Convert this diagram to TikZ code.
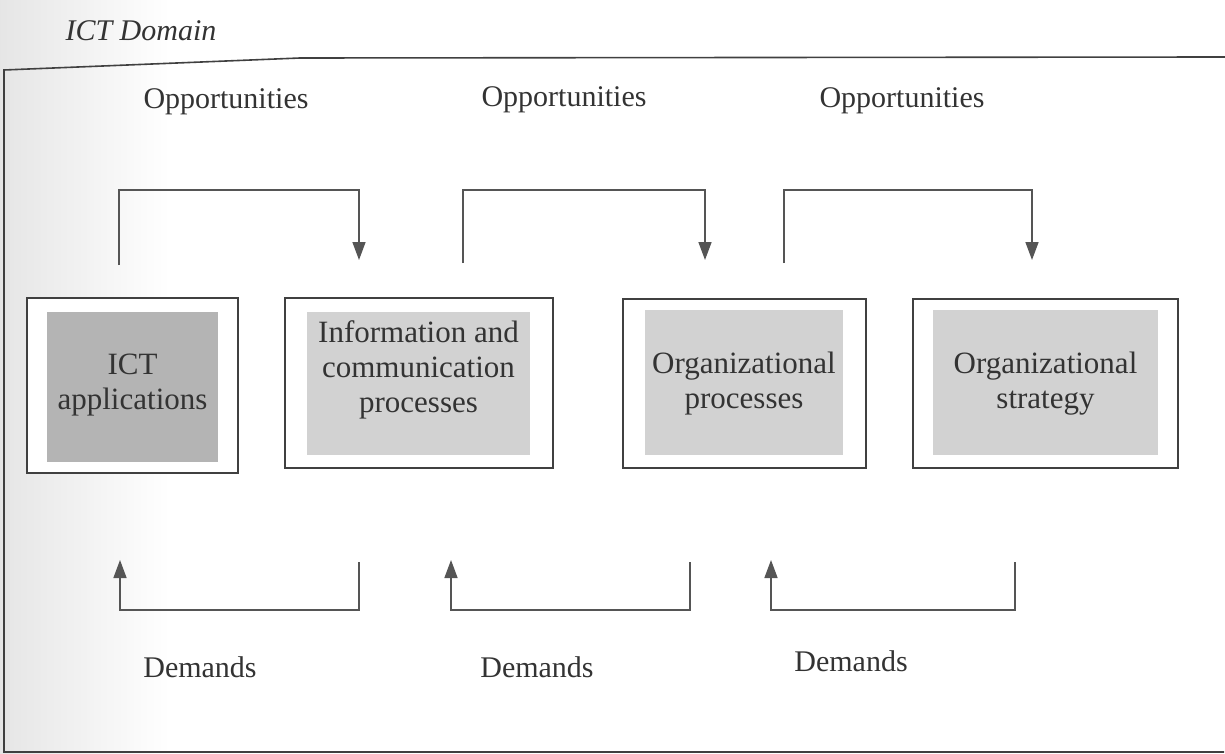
\documentclass[tikz,border=0pt]{standalone}
\usepackage{fontspec}
\setmainfont{Liberation Serif}
\usetikzlibrary{arrows.meta}
\definecolor{inkline}{HTML}{404040}
\definecolor{wireline}{HTML}{555555}
\definecolor{fillA}{HTML}{B4B4B4}
\definecolor{fillB}{HTML}{D2D2D2}
\begin{document}
\begin{tikzpicture}[x=1pt,y=-1pt,
  outerbox/.style={draw=inkline,line width=1.6pt,fill=white,minimum width=#1,inner sep=0pt},
  panel/.style={fill=#1,inner sep=0pt},
  boxtext/.style={inner sep=0pt,align=center,font=\fontsize{31}{35}\selectfont,text=black!80},
  flowlabel/.style={font=\fontsize{30}{34}\selectfont,text=black!80},
  flow/.style={draw=wireline,line width=1.5pt,-{Triangle[width=13pt,length=18pt]}}]
\useasboundingbox (0,0) rectangle (1225,754);
% scanned-page haze at the left margin
\fill[left color=black!10,right color=white] (0,0) rectangle (170,754);
% domain frame
\draw[inkline,line width=1.6pt] (1224,752) -- (4,752) -- (4,70) -- (300,58) -- (1225,57);
\node[font=\itshape\fontsize{30}{34}\selectfont,text=black!80,anchor=west] (domain) at (62,31) {ICT Domain};

% boxes: outer frame, shaded inner panel, caption
\node[outerbox=211pt,minimum height=175pt] (b1) at (132.5,385.5) {};
\node[panel=fillA,minimum width=171pt,minimum height=150pt] (p1) at (132.5,387) {};
\node[boxtext] (t1) at (132.5,385) {ICT\\applications};
\node[outerbox=268pt,minimum height=170pt] (b2) at (419,383) {};
\node[panel=fillB,minimum width=223pt,minimum height=143pt] (p2) at (418.5,383.5) {};
\node[boxtext] (t2) at (418.5,370) {Information and\\communication\\processes};
\node[outerbox=243pt,minimum height=169pt] (b3) at (744.5,383.5) {};
\node[panel=fillB,minimum width=198pt,minimum height=145pt] (p3) at (744,382.5) {};
\node[boxtext] (t3) at (744,384) {Organizational\\processes};
\node[outerbox=265pt,minimum height=169pt] (b4) at (1045.5,383.5) {};
\node[panel=fillB,minimum width=225pt,minimum height=145pt] (p4) at (1045.5,382.5) {};
\node[boxtext] (t4) at (1045.5,384) {Organizational\\strategy};

% opportunity connectors (above)
\coordinate (o1s) at (119,265); \coordinate (o1e) at (359,260);
\coordinate (o2s) at (463,263); \coordinate (o2e) at (705,260);
\coordinate (o3s) at (784,263); \coordinate (o3e) at (1032,260);
\draw[flow] (o1s) |- (239,190) -| (o1e);
\draw[flow] (o2s) |- (584,190) -| (o2e);
\draw[flow] (o3s) |- (908,190) -| (o3e);
\node[flowlabel] (op1) at (226,102) {Opportunities};
\node[flowlabel] (op2) at (564,100) {Opportunities};
\node[flowlabel] (op3) at (902,101) {Opportunities};

% demand connectors (below)
\coordinate (d1s) at (359,562); \coordinate (d1e) at (120,560);
\coordinate (d2s) at (690,562); \coordinate (d2e) at (451,560);
\coordinate (d3s) at (1015,562); \coordinate (d3e) at (771,560);
\draw[flow] (d1s) |- (240,610) -| (d1e);
\draw[flow] (d2s) |- (570,610) -| (d2e);
\draw[flow] (d3s) |- (893,610) -| (d3e);
\node[flowlabel] (de1) at (200,667) {Demands};
\node[flowlabel] (de2) at (537,667) {Demands};
\node[flowlabel] (de3) at (851,661) {Demands};
\end{tikzpicture}
\end{document}
